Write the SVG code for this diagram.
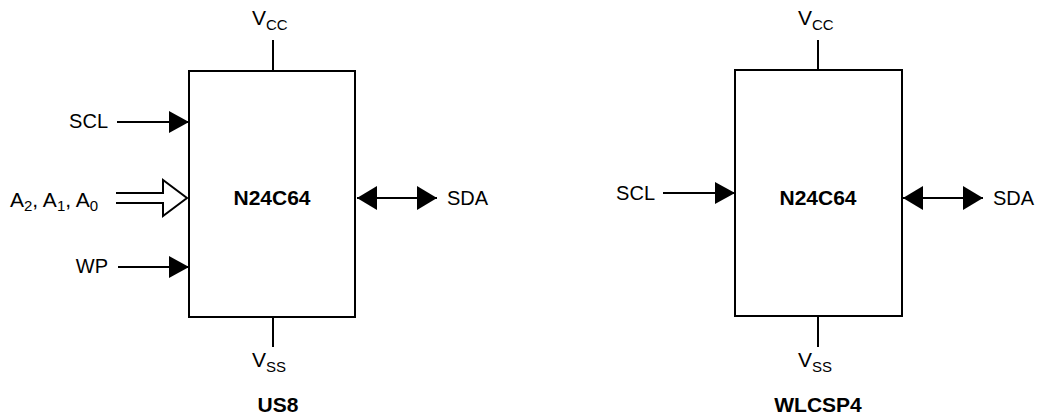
<svg xmlns="http://www.w3.org/2000/svg" width="1039" height="418" viewBox="0 0 1039 418">
<style>
.t{font-family:"Liberation Sans",Arial,sans-serif;font-size:20px;fill:#000}
.v{font-size:21px}
.s{font-size:15px}
.b{font-family:"Liberation Sans",Arial,sans-serif;font-size:21px;font-weight:bold;fill:#000}
.ln{stroke:#000;stroke-width:2;fill:none}
.box{stroke:#000;stroke-width:2;fill:#fff}
</style>
<defs>
<marker id="ah" markerWidth="20" markerHeight="24" refX="20" refY="12" orient="auto" markerUnits="userSpaceOnUse">
<path d="M0,1 L20,12 L0,23 Z" fill="#000"/>
</marker>
<marker id="ahs" markerWidth="20" markerHeight="24" refX="20" refY="12" orient="auto-start-reverse" markerUnits="userSpaceOnUse">
<path d="M0,0 L20,12 L0,24 Z" fill="#000"/>
</marker>
</defs>
<g id="connectors">
<line class="ln" x1="273" y1="40" x2="273" y2="71"/>
<line class="ln" x1="273" y1="317" x2="273" y2="347"/>
<line class="ln" x1="117" y1="122" x2="189" y2="122" marker-end="url(#ah)"/>
<line class="ln" x1="118" y1="267" x2="189" y2="267" marker-end="url(#ah)"/>
<path class="ln" d="M116,193 H163 V180 L187,198 L163,216 V203 H116" fill="#fff"/>
<line class="ln" x1="357" y1="198" x2="437" y2="198" marker-start="url(#ahs)" marker-end="url(#ahs)"/>
<line class="ln" x1="818" y1="40" x2="818" y2="70"/>
<line class="ln" x1="818" y1="316" x2="818" y2="347"/>
<line class="ln" x1="663" y1="193" x2="735" y2="193" marker-end="url(#ah)"/>
<line class="ln" x1="903" y1="198" x2="983" y2="198" marker-start="url(#ahs)" marker-end="url(#ahs)"/>
</g>
<g id="us8">
<rect class="box" x="189" y="71" width="166" height="246"/>
<text class="b" x="272" y="205" text-anchor="middle">N24C64</text>
<text class="t v" x="252" y="25">V<tspan class="s" dy="5">CC</tspan></text>
<text class="t v" x="252" y="367">V<tspan class="s" dy="5">SS</tspan></text>
<text class="t" x="108" y="128" text-anchor="end">SCL</text>
<text class="t" x="108" y="273" text-anchor="end">WP</text>
<text class="t v" x="10" y="207">A<tspan class="s" dy="4">2</tspan><tspan dy="-4">, A</tspan><tspan class="s" dy="4">1</tspan><tspan dy="-4">, A</tspan><tspan class="s" dy="4">0</tspan></text>
<text class="t" x="447" y="205">SDA</text>
<text class="b" x="278" y="412" text-anchor="middle">US8</text>
</g>
<g id="wlcsp4">
<rect class="box" x="735" y="70" width="167" height="246"/>
<text class="b" x="818" y="205" text-anchor="middle">N24C64</text>
<text class="t v" x="798" y="25">V<tspan class="s" dy="5">CC</tspan></text>
<text class="t v" x="798" y="367">V<tspan class="s" dy="5">SS</tspan></text>
<text class="t" x="655" y="200" text-anchor="end">SCL</text>
<text class="t" x="993" y="205">SDA</text>
<text class="b" x="818" y="412" text-anchor="middle">WLCSP4</text>
</g>
</svg>
